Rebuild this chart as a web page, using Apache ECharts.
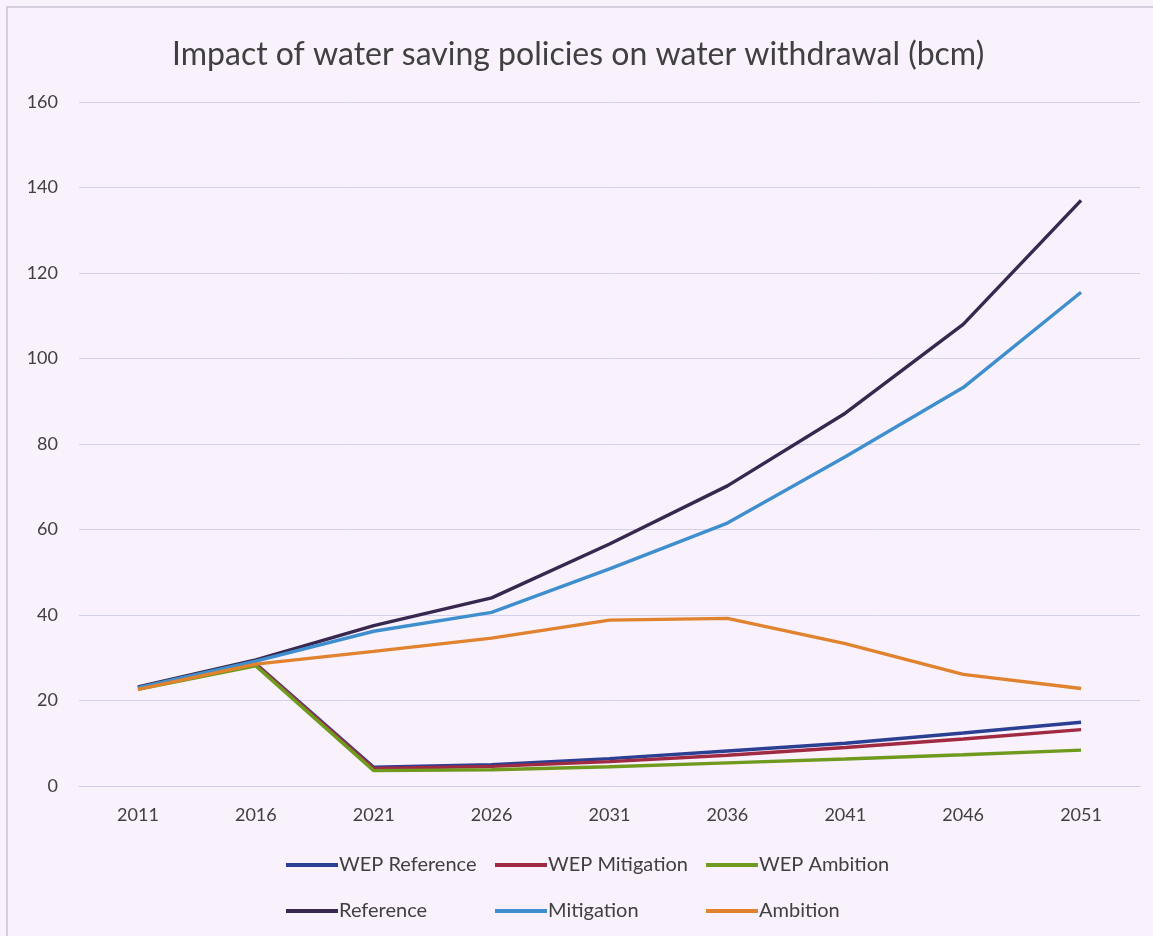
<!DOCTYPE html>
<html>
<head>
<meta charset="utf-8">
<script src="https://cdn.jsdelivr.net/npm/echarts@6/dist/echarts.min.js"></script>
<style>
html,body{margin:0;padding:0;background:#f9f1fc;}
#c{width:1153px;height:936px;}
</style>
</head>
<body>
<div id="c"></div>
<script>
const years = ['2011','2016','2021','2026','2031','2036','2041','2046','2051'];
const yTicks = [0,20,40,60,80,100,120,140,160];
const wepReference = [23, 28.6, 4.4, 5.0, 6.4, 8.2, 10.0, 12.4, 14.9];
const wepMitigation = [23, 28.4, 4.1, 4.6, 5.7, 7.2, 9.0, 11.0, 13.2];
const wepAmbition = [22.6, 28.1, 3.6, 3.8, 4.5, 5.4, 6.3, 7.3, 8.4];
const reference = [23.2, 29.5, 37.5, 44.0, 56.6, 70.2, 87.2, 108.0, 137.0];
const mitigation = [23.0, 29.2, 36.2, 40.6, 50.8, 61.5, 77.0, 93.2, 115.5];
const ambition = [22.6, 28.5, 31.5, 34.6, 38.8, 39.2, 33.3, 26.1, 22.8];

const names = ['WEP Reference','WEP Mitigation','WEP Ambition','Reference','Mitigation','Ambition'];
const colors = ['#2b3f93','#a02a42','#6f9a1e','#38284f','#3f8fcf','#e0822e'];
const values = [wepReference, wepMitigation, wepAmbition, reference, mitigation, ambition];

const font = 'Lato, "Open Sans", sans-serif';
const chart = echarts.init(document.getElementById('c'));

const legendPos = [
  {left: 281, top: 850}, {left: 490, top: 850}, {left: 701, top: 850},
  {left: 281, top: 896}, {left: 490, top: 896}, {left: 701, top: 896}
];
const legends = names.map((n, i) => ({
  data: [n],
  left: legendPos[i].left,
  top: legendPos[i].top,
  icon: 'rect',
  itemWidth: 52,
  itemHeight: 4,
  itemGap: 2,
  textStyle: {color: '#404040', fontSize: 20, fontFamily: font, padding: [0,0,0,-4]},
  selectedMode: false
}));

chart.setOption({
  backgroundColor: '#f9f1fc',
  animation: false,
  title: {
    text: 'Impact of water saving policies on water withdrawal (bcm)',
    left: 167,
    top: 34,
    textStyle: {color: '#404040', fontSize: 32, fontWeight: 'normal', fontFamily: font}
  },
  graphic: [{
    type: 'rect',
    shape: {x: 7, y: 7, width: 1200, height: 1000},
    style: {fill: 'none', stroke: '#c9c3d3', lineWidth: 1.5},
    silent: true
  }],
  legend: legends,
  grid: {left: 79, right: 13, top: 102, bottom: 150},
  xAxis: {
    type: 'category',
    data: years,
    boundaryGap: true,
    axisLine: {show: true, lineStyle: {color: '#cfcbe8', width: 1}},
    axisTick: {show: false},
    axisLabel: {color: '#404040', fontSize: 18, fontFamily: font, margin: 20}
  },
  yAxis: {
    type: 'value',
    min: yTicks[0],
    max: yTicks[yTicks.length - 1],
    interval: 20,
    axisLine: {show: false},
    axisTick: {show: false},
    axisLabel: {color: '#404040', fontSize: 18, fontFamily: font, margin: 21, align: 'right'},
    splitLine: {lineStyle: {color: '#d3d0ee', width: 1}}
  },
  series: names.map((n, i) => ({
    name: n,
    type: 'line',
    data: values[i],
    symbol: 'none',
    color: colors[i],
    lineStyle: {width: 3.4, color: colors[i]},
    z: 2 + i
  }))
});
</script>
</body>
</html>
